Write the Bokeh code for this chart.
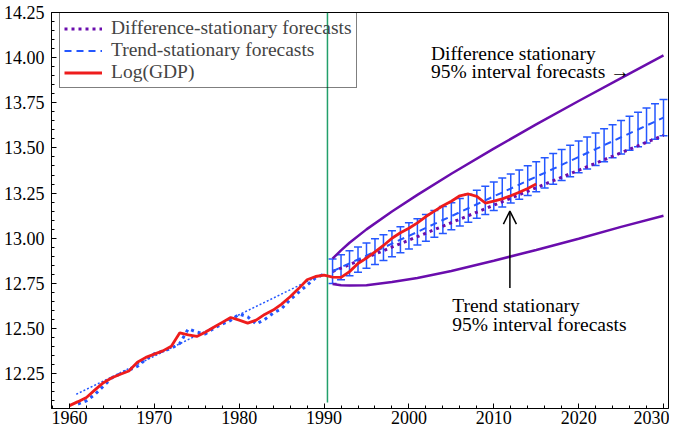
from bokeh.plotting import figure
from bokeh.models import (Range1d, SingleIntervalTicker, NumeralTickFormatter, ColumnDataSource,
                          Whisker, TeeHead, Legend, LegendItem, Arrow, OpenHead, Label)
from bokeh.embed import file_html
from bokeh.resources import INLINE

# ---- data ----
gdp_years = list(range(1960, 2016))
log_gdp = [12.073, 12.095, 12.118, 12.160, 12.200, 12.227, 12.247, 12.265, 12.313, 12.340,
           12.358, 12.376, 12.402, 12.476, 12.465, 12.456, 12.479, 12.507, 12.534, 12.561,
           12.546, 12.530, 12.546, 12.578, 12.602, 12.635, 12.676, 12.721, 12.770, 12.788,
           12.795, 12.785, 12.783, 12.815, 12.860, 12.890, 12.925, 12.960, 13.000, 13.030,
           13.055, 13.085, 13.120, 13.150, 13.180, 13.205, 13.235, 13.245, 13.232, 13.195,
           13.205, 13.218, 13.235, 13.255, 13.275, 13.300]

fit_years = list(range(1961, 1991))
fit_vals = [12.082, 12.100, 12.135, 12.181, 12.227, 12.250, 12.270, 12.290, 12.330, 12.360,
            12.375, 12.390, 12.417, 12.498, 12.480, 12.470, 12.500, 12.525, 12.545, 12.580,
            12.565, 12.525, 12.550, 12.585, 12.610, 12.660, 12.700, 12.740, 12.780, 12.800]

trend_fit_years = [1960.8, 1990.0]
trend_fit_vals = [12.136, 12.806]

fc_years = list(range(1991, 2031))
ts_center = [12.817, 12.839, 12.861, 12.882, 12.904, 12.926, 12.948, 12.970, 12.992, 13.013,
             13.035, 13.057, 13.079, 13.101, 13.122, 13.144, 13.166, 13.188, 13.210, 13.232,
             13.253, 13.275, 13.297, 13.319, 13.341, 13.362, 13.384, 13.406, 13.428, 13.450,
             13.472, 13.493, 13.515, 13.537, 13.559, 13.581, 13.602, 13.624, 13.646, 13.668]
ts_half = [0.068, 0.069, 0.069, 0.070, 0.070, 0.071, 0.071, 0.072, 0.072, 0.073,
           0.073, 0.074, 0.074, 0.075, 0.075, 0.076, 0.077, 0.077, 0.078, 0.079,
           0.080, 0.080, 0.081, 0.082, 0.083, 0.084, 0.085, 0.086, 0.087, 0.088,
           0.089, 0.090, 0.091, 0.092, 0.093, 0.094, 0.095, 0.097, 0.098, 0.100]

ds_years = [1991, 2030]
ds_vals = [12.815, 13.570]

band_years = [1991, 1992, 1993, 1995, 1998, 2001, 2005, 2010, 2015, 2020, 2025, 2030]
ds_upper = [12.887, 12.933, 12.975, 13.049, 13.148, 13.240, 13.357, 13.496, 13.630, 13.760, 13.887, 14.013]
ds_lower = [12.746, 12.740, 12.738, 12.740, 12.757, 12.780, 12.818, 12.875, 12.935, 12.997, 13.063, 13.124]

break_year = 1990.4
break_span = [12.09, 14.25]

PURPLE = "#6a0dad"
BLUE = "#2457ff"
RED = "#ee1c1c"
GREEN = "#22a06b"
FONT = "Liberation Serif"

p = figure(width=669, height=430, output_backend="svg", toolbar_location=None,
           x_range=Range1d(1957.88, 2030.59), y_range=Range1d(12.057, 14.25),
           min_border_left=50, min_border_right=1, min_border_top=12, min_border_bottom=22,
           background_fill_color="white", border_fill_color="white")
p.xgrid.grid_line_color = None
p.ygrid.grid_line_color = None
p.outline_line_color = "black"
p.outline_line_width = 1

p.xaxis.ticker = SingleIntervalTicker(interval=10, num_minor_ticks=5)
p.yaxis.ticker = SingleIntervalTicker(interval=0.25, num_minor_ticks=5)
p.yaxis.formatter = NumeralTickFormatter(format="0.00")
for ax in (p.xaxis, p.yaxis):
    ax.axis_line_color = "black"
    ax.major_tick_line_color = "black"
    ax.minor_tick_line_color = "black"
    ax.major_tick_in = 5
    ax.major_tick_out = 0
    ax.minor_tick_in = 3
    ax.minor_tick_out = 0
    ax.major_label_text_font = FONT
    ax.major_label_text_font_size = "18px"
    ax.major_label_text_color = "black"
p.xaxis.major_label_standoff = 2
p.yaxis.major_label_standoff = 7

# break line
p.line([break_year, break_year], break_span, line_color=GREEN, line_width=1.5)

# trend-stationary error bars
src = ColumnDataSource(dict(x=fc_years,
                            upper=[c + h for c, h in zip(ts_center, ts_half)],
                            lower=[c - h for c, h in zip(ts_center, ts_half)]))
p.add_layout(Whisker(source=src, base="x", upper="upper", lower="lower",
                     line_color=BLUE, line_width=1.5,
                     upper_head=TeeHead(size=8, line_color=BLUE, line_width=1.5),
                     lower_head=TeeHead(size=8, line_color=BLUE, line_width=1.5)))

# DS bands
p.line(band_years, ds_upper, line_color=PURPLE, line_width=2.5)
p.line(band_years, ds_lower, line_color=PURPLE, line_width=2.5)

# in-sample fits
p.line(trend_fit_years, trend_fit_vals, line_color=BLUE, line_width=1.5, line_dash="2 2")
p.line(fit_years, fit_vals, line_color=BLUE, line_width=3, line_dash="3 4")

# forecasts
r_ds = p.line(ds_years, ds_vals, line_color=PURPLE, line_width=3, line_dash="3 4")
r_ts = p.line(fc_years, ts_center, line_color=BLUE, line_width=2, line_dash="7 5")
r_gdp = p.line(gdp_years, log_gdp, line_color=RED, line_width=2.8)

legend = Legend(items=[LegendItem(label="Difference-stationary forecasts", renderers=[r_ds]),
                       LegendItem(label="Trend-stationary forecasts", renderers=[r_ts]),
                       LegendItem(label="Log(GDP)", renderers=[r_gdp])],
                location=(8, 320), margin=0, padding=4, spacing=0,
                glyph_width=38, glyph_height=19, label_height=19, label_standoff=9,
                label_text_font=FONT, label_text_font_size="19.5px",
                border_line_color="black", border_line_width=1,
                background_fill_alpha=0)
p.add_layout(legend)

def add_text(x, y, t):
    p.add_layout(Label(x=x, y=y, text=t, text_font=FONT, text_font_size="19.5px",
                       text_color="black", text_baseline="alphabetic", text_align="left"))

add_text(2002.6, 14.022, "Difference stationary")
add_text(2002.6, 13.922, "95% interval forecasts \u2192")
add_text(2005.1, 12.625, "Trend stationary")
add_text(2005.1, 12.524, "95% interval forecasts")

p.add_layout(Arrow(end=OpenHead(size=13, line_color="black", line_width=1.5),
                   x_start=2011.9, y_start=12.725, x_end=2011.9, y_end=13.15,
                   line_color="black", line_width=1.5))

open("out.html", "w").write(file_html(p, INLINE))
